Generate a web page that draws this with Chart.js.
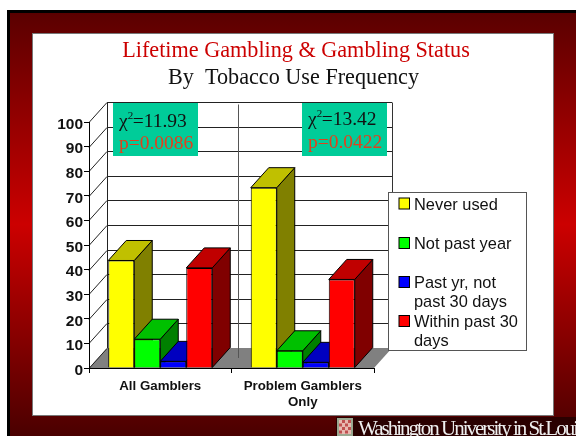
<!DOCTYPE html>
<html>
<head>
<meta charset="utf-8">
<title>Lifetime Gambling & Gambling Status</title>
<script src="https://cdn.jsdelivr.net/npm/chart.js@4/dist/chart.umd.min.js"></script>
<style>
html,body{margin:0;padding:0;background:#fff;}
canvas{display:block;}
</style>
</head>
<body>
<canvas id="chart" width="576" height="436"></canvas>
<script>
const categories = ["All Gamblers", ["Problem Gamblers", "Only"]];
const seriesNames = ["Never used", "Not past year", "Past yr, not past 30 days", "Within past 30 days"];
const neverUsed = [43.7, 73.3];
const notPastYear = [11.7, 7];
const pastYear = [2.7, 2.3];
const past30Days = [40.7, 36];
const yTicks = [0, 10, 20, 30, 40, 50, 60, 70, 80, 90, 100];

const frontColors = ["#FFFF00", "#00FF00", "#0000FF", "#FF0000"];
const topColors = ["#C0C000", "#00C000", "#0000C0", "#C00000"];
const sideColors = ["#808000", "#008000", "#000080", "#800000"];

const legendLines = [["Never used"], ["Not past year"], ["Past yr, not", "past 30 days"], ["Within past 30", "days"]];
const legendRows = [204, 243.5, 282.5, 321.5];

const chiBoxes = [
  { x: 113, chi: "=11.93", p: "p=0.0086", chiY: 127, pY: 148.5 },
  { x: 302, chi: "=13.42", p: "p=0.0422", chiY: 124.5, pY: 147.5 }
];

// depth of the 3d box, in pixels
const DX = 18, DY = -20;

function poly(c, pts, fill, stroke){
  c.beginPath();
  pts.forEach((p,i)=> i ? c.lineTo(p[0],p[1]) : c.moveTo(p[0],p[1]));
  c.closePath();
  if(fill){ c.fillStyle=fill; c.fill(); }
  if(stroke){ c.strokeStyle=stroke; c.lineWidth=1; c.stroke(); }
}

function line(c, x1, y1, x2, y2, color){
  c.strokeStyle=color; c.lineWidth=1;
  c.beginPath(); c.moveTo(x1,y1); c.lineTo(x2,y2); c.stroke();
}

// --- slide frame, titles, footer ---
function drawSlide(c){
  const g=c.createLinearGradient(0,13,0,436);
  g.addColorStop(0,"#5A0000");
  g.addColorStop(0.5,"#CC0000");
  g.addColorStop(1,"#4A0000");
  c.fillStyle="#000";
  c.fillRect(7,10,569,426);
  c.fillStyle=g;
  c.fillRect(10,13,566,423);

  c.fillStyle="#FFF";
  c.fillRect(32,33,521,382);
  c.strokeStyle="#777";
  c.lineWidth=1;
  c.strokeRect(32.5,33.5,521,382);

  c.textAlign="center";
  c.textBaseline="alphabetic";
  c.font='22.2px "Liberation Serif"';
  c.fillStyle="#CC0000";
  c.fillText("Lifetime Gambling & Gambling Status",296,57);
  c.fillStyle="#111";
  c.fillText("By  Tobacco Use Frequency",293.5,84);

  // footer band with the university name
  c.fillStyle="#2A0000";
  c.fillRect(336,417,240,19);
  c.fillStyle="#9AA890";
  c.fillRect(337,418,16,18);
  c.fillStyle="#E8B8B0";
  c.fillRect(339,420,12,14);
  c.fillStyle="#C05050";
  for(let i=0;i<4;i++){ for(let j=0;j<4;j++){ if((i+j)%2) c.fillRect(339+i*3,420+j*3.5,3,3); } }
  c.textAlign="left";
  c.font='21px "Liberation Serif"';
  c.letterSpacing="-2px";
  c.fillStyle="#EEE";
  c.fillText("Washington University in St.Louis",358,435);
  c.letterSpacing="0px";
}

// --- floor and walls behind the bars ---
function drawWalls(chart){
  const c=chart.ctx, y=chart.scales.y, a=chart.chartArea;
  const bottom=y.getPixelForValue(0);
  poly(c,[[a.left,bottom],[a.right,bottom],[a.right+DX,bottom+DY],[a.left+DX,bottom+DY]],"#808080");
  yTicks.forEach(t=>{
    const py=Math.round(y.getPixelForValue(t))+0.5;
    if(t>0) line(c,a.left+DX,py+DY,a.right+DX,py+DY,"#222");
    line(c,a.left,py,a.left+DX,py+DY,"#222");
  });
  const top=Math.round(y.getPixelForValue(100))+0.5+DY;
  line(c,a.left+DX+0.5,top,a.left+DX+0.5,bottom+DY,"#222");
  line(c,a.right+DX+0.5,top,a.right+DX+0.5,bottom+DY,"#333");
  line(c,238.5,top+2,238.5,bottom-10,"#555");
}

function drawChiBoxes(c){
  chiBoxes.forEach(b=>{
    c.fillStyle="#00CC99";
    c.fillRect(b.x,103,85,53);
    c.textAlign="left";
    c.textBaseline="alphabetic";
    c.font='19.5px "Liberation Serif"';
    c.fillStyle="#111";
    c.fillText("\u03C7",b.x+6,b.chiY);
    const w=c.measureText("\u03C7").width;
    c.fillText(b.chi,b.x+6+w+5,b.chiY);
    c.font='11px "Liberation Serif"';
    c.fillText("2",b.x+6+w,b.chiY-8);
    c.font='19.5px "Liberation Serif"';
    c.fillStyle="#E2401C";
    c.fillText(b.p,b.x+6,b.pY);
  });
}

// --- side and top faces of the bars, left to right ---
function drawBarDepth(chart){
  const c=chart.ctx;
  chart.data.labels.forEach((_,i)=>{
    chart.data.datasets.forEach((ds,d)=>{
      const b=chart.getDatasetMeta(d).data[i];
      const l=b.x-b.width/2, r=b.x+b.width/2, t=b.y, q=b.base;
      poly(c,[[r,t],[r+DX,t+DY],[r+DX,q+DY],[r,q]],sideColors[d],"#000");
      poly(c,[[l,t],[l+DX,t+DY],[r+DX,t+DY],[r,t]],topColors[d],"#000");
    });
  });
}

function drawLegend(c){
  c.fillStyle="#FFF";
  c.fillRect(388,192,139,158);
  c.strokeStyle="#555";
  c.lineWidth=1;
  c.strokeRect(388.5,192.5,138,158);
  c.textAlign="left";
  c.textBaseline="middle";
  c.font='16.4px "Liberation Sans"';
  legendLines.forEach((lines,i)=>{
    const y=legendRows[i];
    c.fillStyle=frontColors[i];
    c.fillRect(399,y-6,10.5,11);
    c.strokeStyle="#000";
    c.strokeRect(399,y-6,10.5,11);
    c.fillStyle="#111";
    lines.forEach((t,n)=>c.fillText(t,414,y+1+n*19));
  });
}

const slidePlugin = {
  id:"slide",
  beforeDraw(chart){ drawSlide(chart.ctx); drawWalls(chart); drawChiBoxes(chart.ctx); },
  beforeDatasetsDraw(chart){ drawBarDepth(chart); },
  afterDraw(chart){ drawLegend(chart.ctx); }
};

const ctx = document.getElementById("chart").getContext("2d");
const seriesValues = [neverUsed, notPastYear, pastYear, past30Days];
const chart = new Chart(ctx,{
  type:"bar",
  data:{
    labels:categories,
    datasets:seriesValues.map((v,i)=>({
      label:seriesNames[i],
      data:v,
      backgroundColor:frontColors[i],
      borderColor:"#000",
      borderWidth:1,
      categoryPercentage:0.73,
      barPercentage:1
    }))
  },
  options:{
    responsive:false,
    animation:false,
    layout:{ padding:{ top:122, right:202, left:0, bottom:0 } },
    plugins:{ legend:{display:false}, title:{display:false}, tooltip:{enabled:false} },
    scales:{
      x:{
        grid:{ drawOnChartArea:false, color:"#000", tickLength:5 },
        border:{ color:"#000" },
        ticks:{ color:"#111", font:{ family:"Liberation Sans", size:13.3, weight:"bold" }, padding:5, maxRotation:0 },
        afterFit(s){ s.height=68; }
      },
      y:{
        min:0, max:100,
        grid:{ drawOnChartArea:false, color:"#000", tickLength:5 },
        border:{ color:"#000" },
        afterBuildTicks(s){ s.ticks=yTicks.map(v=>({value:v})); },
        ticks:{ color:"#111", font:{ family:"Liberation Sans", size:15.5, weight:"bold" }, padding:1 },
        afterFit(s){ s.width=89; }
      }
    }
  },
  plugins:[slidePlugin]
});

// y labels sit a little below their tick marks
const yScale=chart.scales.y, drawYLabels=yScale.drawLabels;
yScale.drawLabels=function(area){
  const c=this.ctx;
  c.save();
  c.translate(0,2.5);
  drawYLabels.call(this,area);
  c.restore();
};
chart.draw();
</script>
</body>
</html>
